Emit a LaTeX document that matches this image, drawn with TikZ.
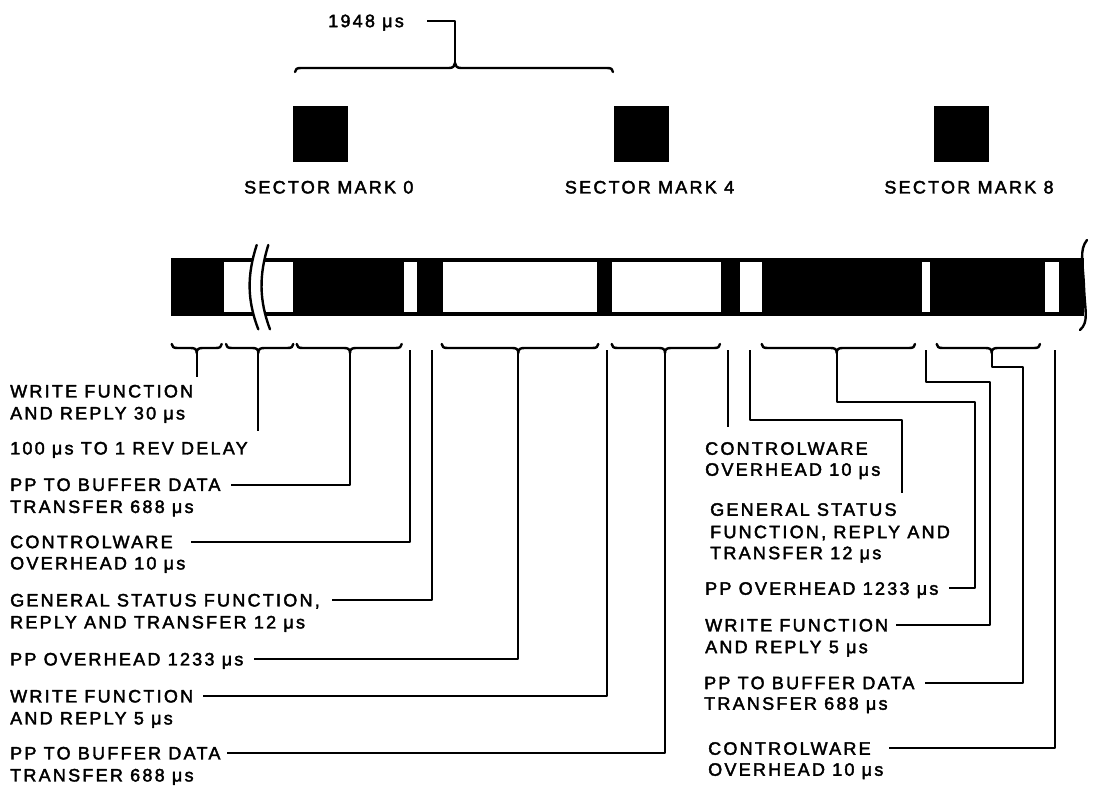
\documentclass[tikz,border=0pt]{standalone}
\usepackage{fontspec}
\setmainfont{Liberation Sans}
\newfontfamily\lab[LetterSpace=12.5,FakeBold=2.2]{Liberation Sans}
\newcommand\ubr[4]{%
  \draw[brk] (#1,344) .. controls (#1,347) and (#1+2,348) .. (#1+6,348) -- (#2-6,348)
    .. controls (#2-2,348) and (#2,349) .. (#2,353) coordinate (#4)
    .. controls (#2,349) and (#2+2,348) .. (#2+6,348) -- (#3-6,348)
    .. controls (#3-2,348) and (#3,347) .. (#3,344);}
\begin{document}
\begin{tikzpicture}[x=1pt,y=-1pt,line join=round,
  lbl/.style={font=\lab\fontsize{18}{21}\selectfont,anchor=west,inner sep=0pt,text height=12.9pt,text depth=0pt},
  slbl/.style={lbl,anchor=center},
  sbox/.style={fill=black,minimum width=55pt,minimum height=55.5pt,inner sep=0pt},
  conn/.style={line width=2pt},
  brk/.style={line width=2.4pt,line cap=round}]
\useasboundingbox (0,0) rectangle (1093,787);

% top label and brace
\node[lbl] (top) at (328,20.7) {1948 μs};
\coordinate (bc) at (455,63);
\draw[brk] (295,72) .. controls (295,69) and (297,68) .. (301,68) -- (449,68)
  .. controls (453,68) and (455,66) .. (bc)
  .. controls (455,66) and (457,68) .. (461,68) -- (607,68)
  .. controls (611,68) and (613,69) .. (613,72);
\draw[conn] ([xshift=23pt]top.east) -| (bc);

% sector marks
\node[sbox] (S0) at (320.8,134) {};
\node[sbox] (S4) at (641.5,134) {};
\node[sbox] (S8) at (961,134) {};
\node[slbl] (T0) at ([xshift=8pt]S0.center |- 0,187) {SECTOR MARK 0};
\node[slbl] (T4) at ([xshift=8pt]S4.center |- 0,187) {SECTOR MARK 4};
\node[slbl] (T8) at ([xshift=8pt]S8.center |- 0,187) {SECTOR MARK 8};

% bar
\fill (170.7,258) rectangle (1084,316);
\foreach \a/\b in {224/292.7,404/416.7,443.3/596.7,612.3/720.7,740/761.7,921.7/930,1045/1059.3}
  \fill[white] (\a,261.7) rectangle (\b,311.7);
% break mark
\fill[white] (256.7,245) .. controls (247,275) and (247,300) .. (258.3,329.3) -- (270,329.3)
  .. controls (259,300) and (259,275) .. (268.3,245) -- cycle;
\draw[brk] (256.7,245) .. controls (247,275) and (247,300) .. (258.3,329.3);
\draw[brk] (268.3,245) .. controls (259,275) and (259,300) .. (270,329.3);
% right end
\fill[white] (1084,250) rectangle (1093,330);
\draw[brk] (1087,240) .. controls (1079,250) and (1083,262) .. (1084,287)
  .. controls (1085,312) and (1089,322) .. (1080,330);

% brackets
\ubr{171.7}{196.7}{221.7}{c1}
\ubr{226}{258.3}{293.3}{c2}
\ubr{296.7}{350}{401.7}{c3}
\ubr{441.7}{518.3}{598.3}{c6}
\ubr{611.7}{665}{720}{c8}
\ubr{761.7}{836.7}{915}{c11}
\ubr{936.7}{991.7}{1040}{c13}
\coordinate (v4) at (410,350);
\coordinate (v5) at (431.7,350);
\coordinate (v7) at (606.7,350);
\coordinate (v9) at (728.3,350);
\coordinate (v10) at (750,350);
\coordinate (v12) at (926,350);
\coordinate (v14) at (1055,350);

% left labels
\node[lbl] (L1) at (10,391) {WRITE FUNCTION};
\node[lbl] (L1b) at (10,413) {AND REPLY 30 μs};
\node[lbl] (L2) at (10,448) {100 μs TO 1 REV DELAY};
\node[lbl] (L3) at (10,484.5) {PP TO BUFFER DATA};
\node[lbl] (L3b) at (10,506.5) {TRANSFER 688 μs};
\node[lbl] (L4) at (10,541.7) {CONTROLWARE};
\node[lbl] (L4b) at (10,563) {OVERHEAD 10 μs};
\node[lbl] (L5) at (10,600) {GENERAL STATUS FUNCTION,};
\node[lbl] (L5b) at (10,622) {REPLY AND TRANSFER 12 μs};
\node[lbl] (L6) at (10,659) {PP OVERHEAD 1233 μs};
\node[lbl] (L7) at (10,696) {WRITE FUNCTION};
\node[lbl] (L7b) at (10,718) {AND REPLY 5 μs};
\node[lbl] (L8) at (10,753) {PP TO BUFFER DATA};
\node[lbl] (L8b) at (10,775) {TRANSFER 688 μs};

% right labels
\node[lbl] (R9) at (705,448.3) {CONTROLWARE};
\node[lbl] (R9b) at (705,469.3) {OVERHEAD 10 μs};
\node[lbl] (R10) at (710,509.3) {GENERAL STATUS};
\node[lbl] (R10b) at (710,531.7) {FUNCTION, REPLY AND};
\node[lbl] (R10c) at (710,552.7) {TRANSFER 12 μs};
\node[lbl] (R11) at (705,588.3) {PP OVERHEAD 1233 μs};
\node[lbl] (R12) at (705,625) {WRITE FUNCTION};
\node[lbl] (R12b) at (705,646.7) {AND REPLY 5 μs};
\node[lbl] (R13) at (704,682.7) {PP TO BUFFER DATA};
\node[lbl] (R13b) at (704,703.3) {TRANSFER 688 μs};
\node[lbl] (R14) at (708,748.3) {CONTROLWARE};
\node[lbl] (R14b) at (708,769.3) {OVERHEAD 10 μs};

% connector bends / free ends
\coordinate (e1) at (196.7,377);
\coordinate (e2) at (258.3,431);
\coordinate (e9) at (728.3,427);
\coordinate (k10) at (901.7,420);
\coordinate (e10) at (901.7,493);
\coordinate (k11) at (975,401.7);
\coordinate (k12) at (990,381.7);
\coordinate (k13) at (1023.3,366.7);

% left connectors
\draw[conn] (c1) -- (e1);
\draw[conn] (c2) -- (e2);
\draw[conn] (c3) |- ([xshift=10pt]L3.east);
\draw[conn] (v4) |- ([xshift=18pt]L4.east);
\draw[conn] (v5) |- ([xshift=12pt]L5.east);
\draw[conn] (c6) |- ([xshift=10pt]L6.east);
\draw[conn] (v7) |- ([xshift=10pt]L7.east);
\draw[conn] (c8) |- ([xshift=6pt]L8.east);

% right connectors
\draw[conn] (v9) -- (e9);
\draw[conn] (v10) |- (k10) -- (e10);
\draw[conn] (c11) |- (k11) |- ([xshift=10pt]R11.east);
\draw[conn] (v12) |- (k12) |- ([xshift=8pt]R12.east);
\draw[conn] (c13) |- (k13) |- ([xshift=10pt]R13.east);
\draw[conn] (v14) |- ([xshift=18pt]R14.east);
\end{tikzpicture}
\end{document}
